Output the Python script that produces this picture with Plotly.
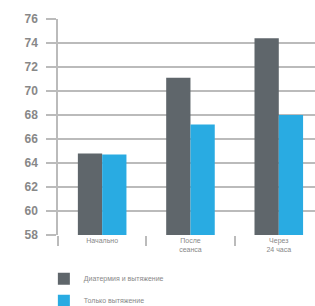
import plotly.graph_objects as go

categories = ["Начально", "После<br>сеанса", "Через<br>24 часа"]
series_names = ["Диатермия и вытяжение", "Только вытяжение"]
diathermy_traction = [64.8, 71.1, 74.4]
traction_only = [64.7, 67.2, 68.0]
y_ticks = [58, 60, 62, 64, 66, 68, 70, 72, 74, 76]

fig = go.Figure()
fig.add_trace(go.Bar(x=categories, y=diathermy_traction, name=series_names[0],
                     marker=dict(color="#5f666b", line=dict(width=0)), legendgroup="a"))
fig.add_trace(go.Bar(x=categories, y=traction_only, name=series_names[1],
                     marker=dict(color="#29abe2", line=dict(width=0)), legendgroup="b"))

fig.update_layout(
    width=315, height=306,
    margin=dict(l=58, r=0, t=19, b=71, autoexpand=False),
    plot_bgcolor="white", paper_bgcolor="white",
    barmode="group", bargap=0.45, bargroupgap=0,
    showlegend=True,
    legend=dict(x=-0.055, y=-0.135, xanchor="left", yanchor="top",
                font=dict(size=7, color="#888888", family="Liberation Sans"),
                tracegroupgap=3, itemwidth=30, bgcolor="rgba(0,0,0,0)"),
    xaxis=dict(range=[-0.5, 2.41], tickson="boundaries", ticks="outside", ticklen=10,
               tickcolor="#bbbbbb", tickwidth=1.5, showgrid=False, showline=False,
               zeroline=False,
               tickfont=dict(size=7, color="#888888", family="Liberation Sans")),
    yaxis=dict(range=[58, 76], tickvals=y_ticks, ticks="outside", ticklen=10,
               tickcolor="#bbbbbb", tickwidth=1.5, showgrid=True, gridcolor="#bbbbbb",
               gridwidth=1.5, showline=True, linecolor="#bbbbbb", linewidth=1.5,
               zeroline=False, ticklabelstandoff=6,
               tickfont=dict(size=12, color="#888888", family="Liberation Sans Narrow, Liberation Sans", weight="bold")),
)
fig.write_html("out.html", config={"displayModeBar": False},
               post_script="document.body.style.margin='0px';")
